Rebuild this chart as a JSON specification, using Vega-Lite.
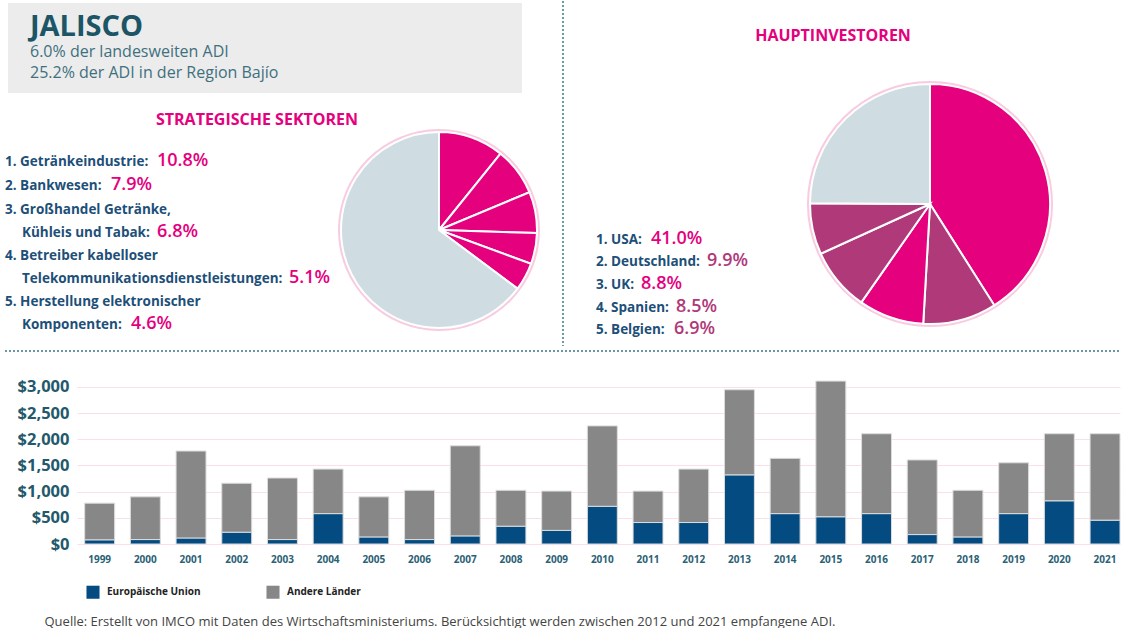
{
  "$schema": "https://vega.github.io/schema/vega-lite/v6.json",
  "padding": 0,
  "background": "#ffffff",
  "config": {"view": {"stroke": null}, "font": "Open Sans"},
  "spacing": 0,
  "resolve": {"scale": {"color": "independent", "theta": "independent"}, "legend": {"color": "independent"}},
  "vconcat": [
    {
      "spacing": 0,
      "resolve": {"scale": {"color": "independent", "theta": "independent"}, "legend": {"color": "independent"}},
      "hconcat": [
        {
          "spacing": 0,
          "resolve": {"scale": {"color": "independent", "theta": "independent"}, "legend": {"color": "independent"}},
          "vconcat": [
            {
              "width": 562,
              "height": 127,
              "data": {"values": [{}]},
              "layer": [
                {"mark": {"type": "rect", "x": 8, "x2": 522, "y": 2, "y2": 92, "fill": "#ececec"}},
                {"mark": {"type": "text", "text": "JALISCO", "x": 30, "y": 35, "align": "left", "baseline": "alphabetic", "fontSize": 29, "fontWeight": "bold", "color": "#1b5566"}},
                {"mark": {"type": "text", "text": "6.0% der landesweiten ADI", "x": 30, "y": 56, "align": "left", "baseline": "alphabetic", "fontSize": 16, "color": "#40707f"}},
                {"mark": {"type": "text", "text": "25.2% der ADI in der Region Bajío", "x": 30, "y": 77, "align": "left", "baseline": "alphabetic", "fontSize": 16, "color": "#40707f"}},
                {"mark": {"type": "text", "text": "STRATEGISCHE SEKTOREN", "x": 257, "y": 124, "align": "center", "baseline": "alphabetic", "fontSize": 16, "fontWeight": "bold", "color": "#e5007e"}}
              ]
            },
            {
              "spacing": 0,
              "resolve": {"scale": {"color": "independent", "theta": "independent"}, "legend": {"color": "independent"}},
              "hconcat": [
                {
                  "width": 337,
                  "height": 219,
                  "data": {"values": [{}]},
                  "layer": [
                    {"mark": {"type": "text", "text": "1. Getränkeindustrie:", "x": 5, "y": 37, "align": "left", "baseline": "alphabetic", "fontSize": 13.5, "fontWeight": "bold", "color": "#1d4f79"}},
                    {"mark": {"type": "text", "text": "10.8%", "x": 157, "y": 37, "align": "left", "baseline": "alphabetic", "fontSize": 18, "fontWeight": 600, "color": "#e5007e"}},
                    {"mark": {"type": "text", "text": "2. Bankwesen:", "x": 5, "y": 61, "align": "left", "baseline": "alphabetic", "fontSize": 13.5, "fontWeight": "bold", "color": "#1d4f79"}},
                    {"mark": {"type": "text", "text": "7.9%", "x": 111, "y": 61, "align": "left", "baseline": "alphabetic", "fontSize": 18, "fontWeight": 600, "color": "#e5007e"}},
                    {"mark": {"type": "text", "text": "3. Großhandel Getränke,", "x": 5, "y": 85, "align": "left", "baseline": "alphabetic", "fontSize": 13.5, "fontWeight": "bold", "color": "#1d4f79"}},
                    {"mark": {"type": "text", "text": "Kühleis und Tabak:", "x": 22, "y": 108, "align": "left", "baseline": "alphabetic", "fontSize": 13.5, "fontWeight": "bold", "color": "#1d4f79"}},
                    {"mark": {"type": "text", "text": "6.8%", "x": 157, "y": 108, "align": "left", "baseline": "alphabetic", "fontSize": 18, "fontWeight": 600, "color": "#e5007e"}},
                    {"mark": {"type": "text", "text": "4. Betreiber kabelloser", "x": 5, "y": 131, "align": "left", "baseline": "alphabetic", "fontSize": 13.5, "fontWeight": "bold", "color": "#1d4f79"}},
                    {"mark": {"type": "text", "text": "Telekommunikationsdienstleistungen:", "x": 22, "y": 154, "align": "left", "baseline": "alphabetic", "fontSize": 13.5, "fontWeight": "bold", "color": "#1d4f79"}},
                    {"mark": {"type": "text", "text": "5.1%", "x": 289, "y": 154, "align": "left", "baseline": "alphabetic", "fontSize": 18, "fontWeight": 600, "color": "#e5007e"}},
                    {"mark": {"type": "text", "text": "5. Herstellung elektronischer", "x": 5, "y": 177, "align": "left", "baseline": "alphabetic", "fontSize": 13.5, "fontWeight": "bold", "color": "#1d4f79"}},
                    {"mark": {"type": "text", "text": "Komponenten:", "x": 22, "y": 200, "align": "left", "baseline": "alphabetic", "fontSize": 13.5, "fontWeight": "bold", "color": "#1d4f79"}},
                    {"mark": {"type": "text", "text": "4.6%", "x": 131, "y": 200, "align": "left", "baseline": "alphabetic", "fontSize": 18, "fontWeight": 600, "color": "#e5007e"}}
                  ]
                },
                {
                  "width": 202,
                  "height": 202,
                  "layer": [
                    {
                      "data": {"values": [{}]},
                      "mark": {"type": "arc", "theta": 0, "theta2": 6.2832, "radius": 101, "radius2": 97, "fill": "#f8cbe0"}
                    },
                    {
                      "data": {"values": [
                        {"sektor": "Getränkeindustrie", "anteil": 10.8, "rang": 1},
                        {"sektor": "Bankwesen", "anteil": 7.9, "rang": 2},
                        {"sektor": "Großhandel Getränke, Kühleis und Tabak", "anteil": 6.8, "rang": 3},
                        {"sektor": "Betreiber kabelloser Telekommunikationsdienstleistungen", "anteil": 5.1, "rang": 4},
                        {"sektor": "Herstellung elektronischer Komponenten", "anteil": 4.6, "rang": 5},
                        {"sektor": "Übrige", "anteil": 64.8, "rang": 6}
                      ]},
                      "mark": {"type": "arc", "radius": 98, "stroke": "#ffffff", "strokeWidth": 2},
                      "encoding": {
                        "theta": {"field": "anteil", "type": "quantitative", "stack": true},
                        "order": {"field": "rang", "type": "quantitative"},
                        "color": {"field": "sektor", "type": "nominal", "legend": null,
                          "scale": {"domain": ["Getränkeindustrie", "Bankwesen", "Großhandel Getränke, Kühleis und Tabak", "Betreiber kabelloser Telekommunikationsdienstleistungen", "Herstellung elektronischer Komponenten", "Übrige"],
                                    "range": ["#e5007e", "#e5007e", "#e5007e", "#e5007e", "#e5007e", "#cfdce2"]}}
                      }
                    }
                  ]
                }
              ]
            }
          ]
        },
        {
          "width": 2,
          "height": 345,
          "data": {"values": [{}]},
          "mark": {"type": "rule", "stroke": "#6a98a5", "strokeDash": [2, 2], "strokeWidth": 2},
          "encoding": {"x": {"value": 1}, "y": {"value": 0}, "y2": {"value": 345}}
        },
        {
          "spacing": 0,
          "resolve": {"scale": {"color": "independent", "theta": "independent"}, "legend": {"color": "independent"}},
          "vconcat": [
            {
              "width": 557,
              "height": 79,
              "data": {"values": [{}]},
              "mark": {"type": "text", "text": "HAUPTINVESTOREN", "x": 269, "y": 40, "align": "center", "baseline": "alphabetic", "fontSize": 16, "fontWeight": "bold", "color": "#e5007e"}
            },
            {
              "spacing": 0,
              "resolve": {"scale": {"color": "independent", "theta": "independent"}, "legend": {"color": "independent"}},
              "hconcat": [
                {
                  "width": 242,
                  "height": 267,
                  "data": {"values": [{}]},
                  "layer": [
                    {"mark": {"type": "text", "text": "1. USA:", "x": 32, "y": 163, "align": "left", "baseline": "alphabetic", "fontSize": 13.5, "fontWeight": "bold", "color": "#1d4f79"}},
                    {"mark": {"type": "text", "text": "41.0%", "x": 87, "y": 163, "align": "left", "baseline": "alphabetic", "fontSize": 18, "fontWeight": 600, "color": "#e5007e"}},
                    {"mark": {"type": "text", "text": "2. Deutschland:", "x": 32, "y": 185, "align": "left", "baseline": "alphabetic", "fontSize": 13.5, "fontWeight": "bold", "color": "#1d4f79"}},
                    {"mark": {"type": "text", "text": "9.9%", "x": 143, "y": 185, "align": "left", "baseline": "alphabetic", "fontSize": 18, "fontWeight": 600, "color": "#b0397a"}},
                    {"mark": {"type": "text", "text": "3. UK:", "x": 32, "y": 208, "align": "left", "baseline": "alphabetic", "fontSize": 13.5, "fontWeight": "bold", "color": "#1d4f79"}},
                    {"mark": {"type": "text", "text": "8.8%", "x": 77, "y": 208, "align": "left", "baseline": "alphabetic", "fontSize": 18, "fontWeight": 600, "color": "#e5007e"}},
                    {"mark": {"type": "text", "text": "4. Spanien:", "x": 32, "y": 231, "align": "left", "baseline": "alphabetic", "fontSize": 13.5, "fontWeight": "bold", "color": "#1d4f79"}},
                    {"mark": {"type": "text", "text": "8.5%", "x": 112, "y": 231, "align": "left", "baseline": "alphabetic", "fontSize": 18, "fontWeight": 600, "color": "#b0397a"}},
                    {"mark": {"type": "text", "text": "5. Belgien:", "x": 32, "y": 253, "align": "left", "baseline": "alphabetic", "fontSize": 13.5, "fontWeight": "bold", "color": "#1d4f79"}},
                    {"mark": {"type": "text", "text": "6.9%", "x": 110, "y": 253, "align": "left", "baseline": "alphabetic", "fontSize": 18, "fontWeight": 600, "color": "#b0397a"}}
                  ]
                },
                {
                  "width": 246,
                  "height": 246,
                  "layer": [
                    {
                      "data": {"values": [{}]},
                      "mark": {"type": "arc", "theta": 0, "theta2": 6.2832, "radius": 123, "radius2": 119, "fill": "#f8cbe0"}
                    },
                    {
                      "data": {"values": [
                        {"land": "USA", "anteil": 41.0, "rang": 1},
                        {"land": "Deutschland", "anteil": 9.9, "rang": 2},
                        {"land": "UK", "anteil": 8.8, "rang": 3},
                        {"land": "Spanien", "anteil": 8.5, "rang": 4},
                        {"land": "Belgien", "anteil": 6.9, "rang": 5},
                        {"land": "Übrige", "anteil": 24.9, "rang": 6}
                      ]},
                      "mark": {"type": "arc", "radius": 120, "stroke": "#ffffff", "strokeWidth": 2},
                      "encoding": {
                        "theta": {"field": "anteil", "type": "quantitative", "stack": true},
                        "order": {"field": "rang", "type": "quantitative"},
                        "color": {"field": "land", "type": "nominal", "legend": null,
                          "scale": {"domain": ["USA", "Deutschland", "UK", "Spanien", "Belgien", "Übrige"],
                                    "range": ["#e5007e", "#b0397a", "#e5007e", "#b0397a", "#b0397a", "#cfdce2"]}}
                      }
                    }
                  ]
                }
              ]
            }
          ]
        }
      ]
    },
    {
      "width": 1121,
      "height": 30,
      "data": {"values": [{}]},
      "mark": {"type": "rule", "stroke": "#6a98a5", "strokeDash": [2, 2], "strokeWidth": 2},
      "encoding": {"x": {"value": 5}, "x2": {"value": 1121}, "y": {"value": 3}}
    },
    {
      "spacing": 0,
      "resolve": {"scale": {"color": "independent", "theta": "independent"}, "legend": {"color": "independent"}},
      "hconcat": [
        {"width": 17, "height": 165, "data": {"values": []}, "mark": "point"},
        {
          "width": 1043,
          "height": 165,
          "data": {"values": [
            {"jahr": "1999", "region": "Europäische Union", "mio": 80}, {"jahr": "1999", "region": "Andere Länder", "mio": 700},
            {"jahr": "2000", "region": "Europäische Union", "mio": 85}, {"jahr": "2000", "region": "Andere Länder", "mio": 815},
            {"jahr": "2001", "region": "Europäische Union", "mio": 115}, {"jahr": "2001", "region": "Andere Länder", "mio": 1660},
            {"jahr": "2002", "region": "Europäische Union", "mio": 225}, {"jahr": "2002", "region": "Andere Länder", "mio": 935},
            {"jahr": "2003", "region": "Europäische Union", "mio": 85}, {"jahr": "2003", "region": "Andere Länder", "mio": 1175},
            {"jahr": "2004", "region": "Europäische Union", "mio": 580}, {"jahr": "2004", "region": "Andere Länder", "mio": 850},
            {"jahr": "2005", "region": "Europäische Union", "mio": 135}, {"jahr": "2005", "region": "Andere Länder", "mio": 765},
            {"jahr": "2006", "region": "Europäische Union", "mio": 85}, {"jahr": "2006", "region": "Andere Länder", "mio": 940},
            {"jahr": "2007", "region": "Europäische Union", "mio": 155}, {"jahr": "2007", "region": "Andere Länder", "mio": 1720},
            {"jahr": "2008", "region": "Europäische Union", "mio": 340}, {"jahr": "2008", "region": "Andere Länder", "mio": 685},
            {"jahr": "2009", "region": "Europäische Union", "mio": 260}, {"jahr": "2009", "region": "Andere Länder", "mio": 750},
            {"jahr": "2010", "region": "Europäische Union", "mio": 720}, {"jahr": "2010", "region": "Andere Länder", "mio": 1535},
            {"jahr": "2011", "region": "Europäische Union", "mio": 410}, {"jahr": "2011", "region": "Andere Länder", "mio": 600},
            {"jahr": "2012", "region": "Europäische Union", "mio": 410}, {"jahr": "2012", "region": "Andere Länder", "mio": 1020},
            {"jahr": "2013", "region": "Europäische Union", "mio": 1320}, {"jahr": "2013", "region": "Andere Länder", "mio": 1625},
            {"jahr": "2014", "region": "Europäische Union", "mio": 580}, {"jahr": "2014", "region": "Andere Länder", "mio": 1055},
            {"jahr": "2015", "region": "Europäische Union", "mio": 520}, {"jahr": "2015", "region": "Andere Länder", "mio": 2590},
            {"jahr": "2016", "region": "Europäische Union", "mio": 580}, {"jahr": "2016", "region": "Andere Länder", "mio": 1525},
            {"jahr": "2017", "region": "Europäische Union", "mio": 180}, {"jahr": "2017", "region": "Andere Länder", "mio": 1425},
            {"jahr": "2018", "region": "Europäische Union", "mio": 135}, {"jahr": "2018", "region": "Andere Länder", "mio": 890},
            {"jahr": "2019", "region": "Europäische Union", "mio": 580}, {"jahr": "2019", "region": "Andere Länder", "mio": 970},
            {"jahr": "2020", "region": "Europäische Union", "mio": 825}, {"jahr": "2020", "region": "Andere Länder", "mio": 1280},
            {"jahr": "2021", "region": "Europäische Union", "mio": 455}, {"jahr": "2021", "region": "Andere Länder", "mio": 1650}
          ]},
          "mark": {"type": "bar", "stroke": "#dcdcdc", "strokeWidth": 1},
          "encoding": {
            "x": {
              "field": "jahr", "type": "ordinal",
              "scale": {"paddingInner": 0.345, "paddingOuter": 0.084, "align": 1},
              "axis": {
                "labelAngle": 0, "labelFontSize": 10, "labelFontWeight": "bold", "labelColor": "#2b6175",
                "labelPadding": 10, "ticks": false, "domain": false,
                "title": "Quelle: Erstellt von IMCO mit Daten des Wirtschaftsministeriums. Berücksichtigt werden zwischen 2012 und 2021 empfangene ADI.",
                "titleFontSize": 13, "titleFontWeight": "normal", "titleColor": "#444444",
                "titleAlign": "left", "titleAnchor": "start", "titleBaseline": "alphabetic", "titleX": -33, "titleY": 81
              }
            },
            "y": {
              "field": "mio", "type": "quantitative", "stack": "zero",
              "scale": {"domain": [0, 3150]},
              "axis": {
                "values": [0, 500, 1000, 1500, 2000, 2500, 3000], "format": "$,.0f",
                "labelFontSize": 16.5, "labelFontWeight": "bold", "labelColor": "#23596b", "labelPadding": 8,
                "ticks": false, "domain": false, "grid": true, "gridColor": "#fbe0ec", "gridWidth": 1, "title": null
              }
            },
            "color": {
              "field": "region", "type": "nominal",
              "scale": {"domain": ["Europäische Union", "Andere Länder"], "range": ["#034b80", "#878787"]},
              "legend": {
                "title": null, "orient": "none", "legendX": 9, "legendY": 206, "direction": "horizontal",
                "symbolType": "square", "symbolSize": 170, "symbolStrokeWidth": 0,
                "labelFontSize": 10, "labelFontWeight": "bold", "labelColor": "#222222",
                "columnPadding": 65, "labelOffset": 7, "padding": 0
              }
            },
            "order": {"field": "region", "sort": "descending"}
          }
        }
      ]
    }
  ]
}
